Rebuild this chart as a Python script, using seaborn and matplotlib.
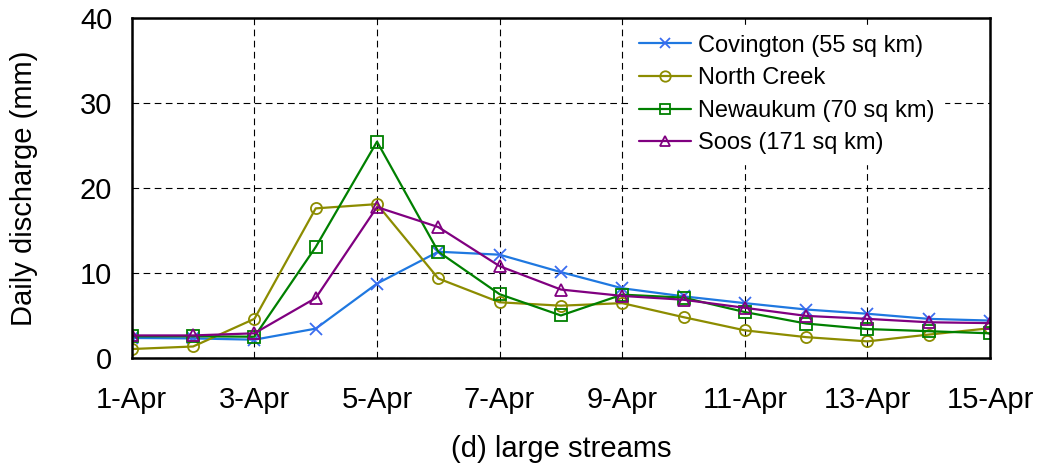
import numpy as np
import pandas as pd
import matplotlib
matplotlib.use("Agg")
import matplotlib.pyplot as plt
import seaborn as sns

# daily values, 1-Apr .. 15-Apr
days = list(range(1, 16))
covington = [2.35, 2.3, 2.15, 3.45, 8.75, 12.5, 12.15, 10.1, 8.2, 7.25, 6.45, 5.7, 5.2, 4.6, 4.4]
north_creek = [1.05, 1.35, 4.6, 17.6, 18.1, 9.35, 6.55, 6.15, 6.45, 4.8, 3.25, 2.45, 1.95, 2.75, 3.5]
newaukum = [2.55, 2.55, 2.5, 13.05, 25.45, 12.5, 7.5, 5.0, 7.45, 7.1, 5.4, 4.05, 3.4, 3.15, 2.9]
soos = [2.65, 2.65, 2.9, 7.05, 17.75, 15.4, 10.8, 8.05, 7.3, 6.85, 5.9, 4.95, 4.6, 4.2, 4.1]

series_names = ["Covington (55 sq km)", "North Creek", "Newaukum (70 sq km)", "Soos (171 sq km)"]
tick_days = [1, 3, 5, 7, 9, 11, 13, 15]
tick_labels = [f"{d}-Apr" for d in tick_days]

sns.set_style("white")
plt.rcParams['font.family'] = ['Liberation Sans', 'DejaVu Sans']
plt.rcParams['text.color'] = 'black'
plt.rcParams['axes.labelcolor'] = 'black'

#Long form table for seaborn
df = pd.DataFrame({
    "day": days * 4,
    "value": covington + north_creek + newaukum + soos,
    "site": np.repeat(series_names, len(days)),
})

colors = {series_names[0]: "#1f78e0", series_names[1]: "#8c8c00",
          series_names[2]: "#008000", series_names[3]: "#800080"}
markers = {series_names[0]: "x", series_names[1]: "o",
           series_names[2]: "s", series_names[3]: "^"}

fig = plt.figure(figsize=(10.46, 4.71), dpi=100)
ax = fig.add_axes([0.126, 0.24, 0.8205, 0.7218])

for name in series_names:
    sub = df[df["site"] == name]
    mk = markers[name]
    sns.lineplot(data=sub, x="day", y="value", ax=ax, color=colors[name],
                 marker=mk, markersize=9 if mk == "x" else 8,
                 markerfacecolor="none" if mk != "x" else colors[name],
                 markeredgecolor=colors[name] if mk != "x" else "#3a6cf0",
                 markeredgewidth=1.3, linewidth=1.6, label=name)

ax.set_xlim(1, 15)
ax.set_ylim(0, 40)
ax.set_xticks(tick_days)
ax.set_xticklabels(tick_labels)
ax.set_yticks([0, 10, 20, 30, 40])
ax.tick_params(axis="both", labelsize=21, direction="out", length=8, width=1.5,
               colors="black", pad=6)
ax.tick_params(axis="x", pad=12)
ax.grid(True, color="black", linestyle=(0, (6, 4)), linewidth=0.8)
for s in ax.spines.values():
    s.set_visible(True)
    s.set_color("black")
    s.set_linewidth(1.8)

ax.set_xlabel("(d) large streams", fontsize=21, labelpad=15)
ax.set_ylabel("Daily discharge (mm)", fontsize=21, labelpad=30)

leg = ax.legend(loc="upper right", bbox_to_anchor=(0.955, 1.0), fontsize=17,
                frameon=True, fancybox=False, edgecolor="white", framealpha=1,
                handlelength=2.2, borderaxespad=0.3, labelspacing=0.45,
                handletextpad=0.3)
for h in leg.legend_handles:
    h.set_markersize(7.5)

fig.savefig("out.png", dpi=100)
